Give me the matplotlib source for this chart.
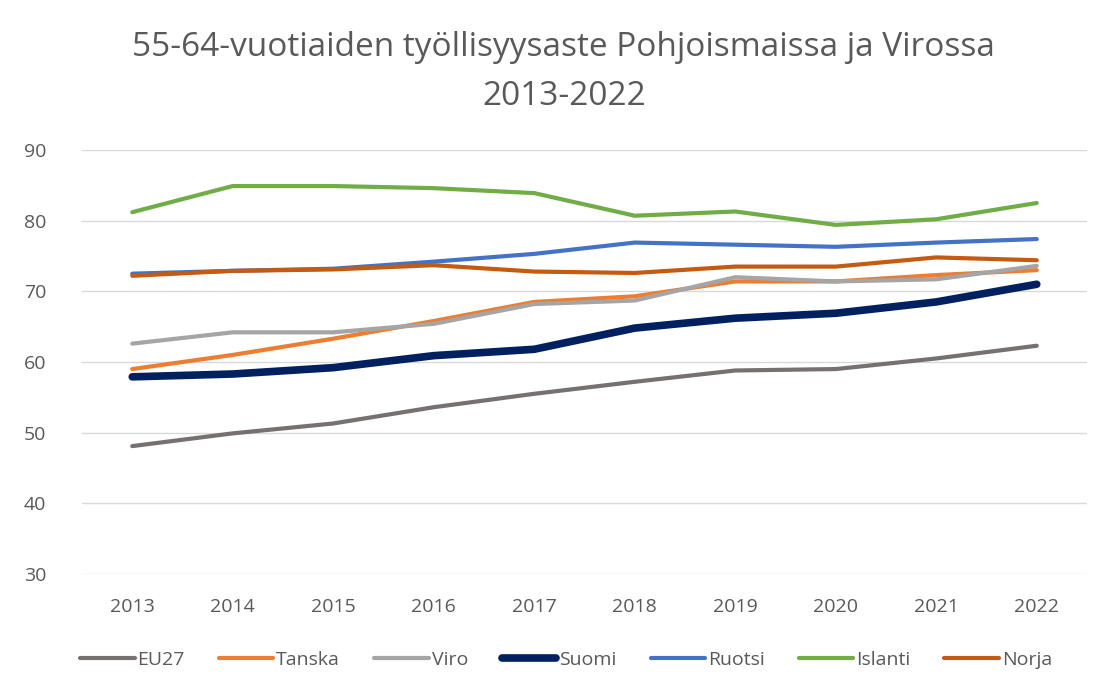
import numpy as np
import matplotlib
matplotlib.use("Agg")
import matplotlib.pyplot as plt

plt.rcParams['font.family'] = ['Open Sans', 'DejaVu Sans']

# === Datos ===
vuodet = ['2013', '2014', '2015', '2016', '2017', '2018', '2019', '2020', '2021', '2022']

eu27    = [48.1, 49.9, 51.3, 53.6, 55.5, 57.2, 58.8, 59.0, 60.5, 62.3]
tanska  = [59.0, 61.0, 63.3, 65.8, 68.5, 69.3, 71.4, 71.4, 72.3, 73.0]
viro    = [62.6, 64.2, 64.2, 65.4, 68.2, 68.7, 72.0, 71.4, 71.7, 73.6]
suomi   = [57.9, 58.3, 59.2, 60.9, 61.8, 64.8, 66.2, 66.9, 68.5, 71.0]
ruotsi  = [72.5, 72.9, 73.2, 74.2, 75.3, 76.9, 76.6, 76.3, 76.9, 77.4]
islanti = [81.2, 84.9, 84.9, 84.6, 83.9, 80.7, 81.3, 79.4, 80.2, 82.5]
norja   = [72.2, 72.9, 73.1, 73.7, 72.8, 72.6, 73.5, 73.5, 74.8, 74.4]

sarjat = [
    ('EU27', eu27, '#767171', 3.0),
    ('Tanska', tanska, '#ED7D31', 3.0),
    ('Viro', viro, '#A5A5A5', 3.0),
    ('Suomi', suomi, '#002060', 5.5),
    ('Ruotsi', ruotsi, '#4472C4', 3.0),
    ('Islanti', islanti, '#70AD47', 3.0),
    ('Norja', norja, '#C55A11', 3.0),
]

# === Kuvio ===
fig = plt.figure(figsize=(11.1, 6.94), dpi=100)
ax = fig.add_axes([82/1110, 1 - 574/694, (1087 - 82)/1110, (574 - 150)/694])

x = np.arange(len(vuodet))
for nimi, arvot, vari, lw in sarjat:
    ax.plot(x, arvot, color=vari, lw=lw, label=nimi, solid_capstyle='round', solid_joinstyle='round')

ax.set_xlim(-0.5, len(vuodet) - 0.5)
ax.set_ylim(30, 90)
ax.set_yticks(np.arange(30, 91, 10))
ax.set_xticks(x)
ax.set_xticklabels(vuodet)
ax.grid(axis='y', color='#D9D9D9', lw=1)
ax.set_axisbelow(True)
for s in ax.spines.values():
    s.set_visible(False)
ax.tick_params(length=0, labelsize=14, colors='#595959')
ax.tick_params(axis='x', pad=17)
ax.tick_params(axis='y', pad=42)
for lab in ax.get_yticklabels():
    lab.set_horizontalalignment('left')

fig.text(0.508, 1 - 72/694, '55-64-vuotiaiden työllisyysaste Pohjoismaissa ja Virossa\n2013-2022',
         ha='center', va='center', fontsize=24, color='#595959', linespacing=1.66)

fig.legend(loc='center', bbox_to_anchor=(0.51, 1 - 660/694), ncol=7, frameon=False,
           fontsize=14, labelcolor='#595959', handlelength=2.8, handletextpad=0.15,
           columnspacing=1.75)

fig.savefig('out.png', dpi=100)
